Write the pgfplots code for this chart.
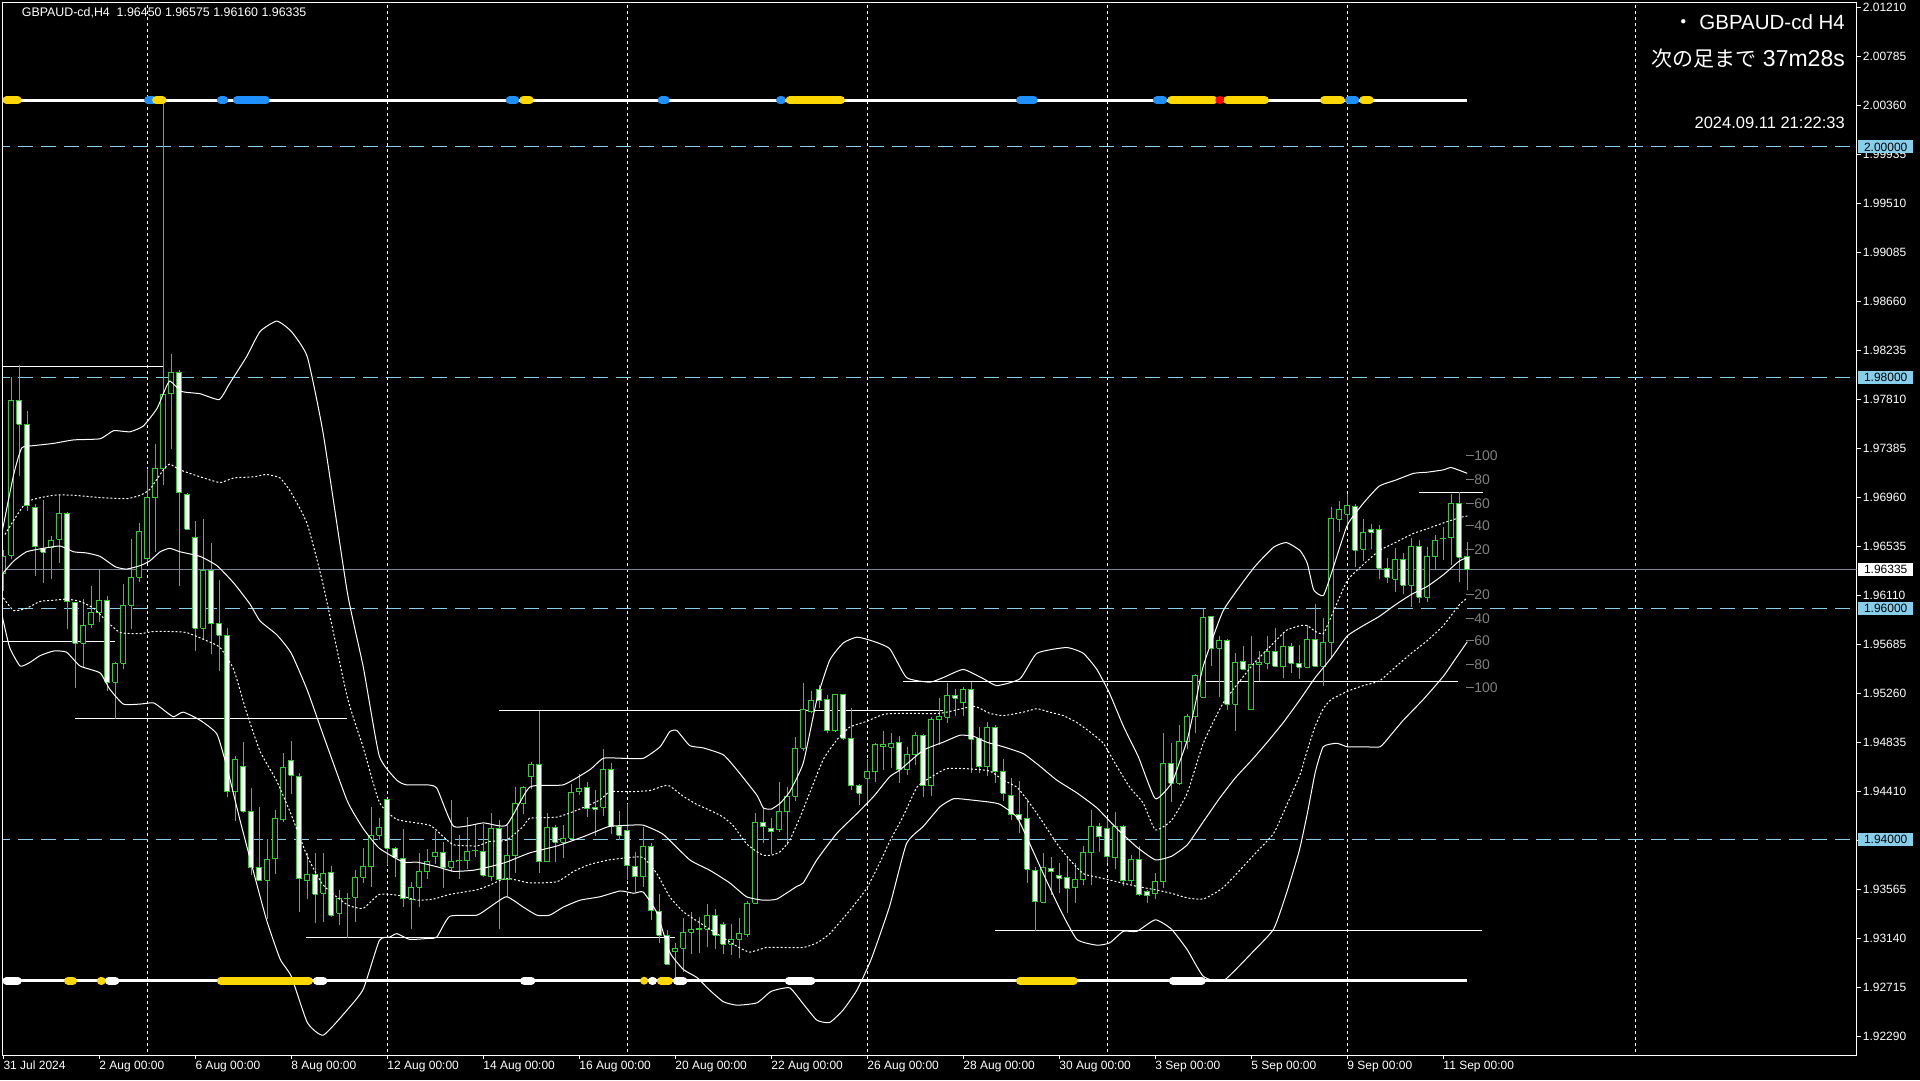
\documentclass[border=0pt]{standalone}
\usepackage{fontspec}
\setmainfont{Liberation Sans}
\newfontfamily\cjk{Noto Sans CJK JP}
\usepackage{pgfplots}
\pgfplotsset{compat=1.18}
\usepackage{pgfplotstable}
\definecolor{cgreen}{RGB}{50,205,50}
\definecolor{sky}{RGB}{135,206,235}
\definecolor{dblue}{RGB}{30,144,255}
\definecolor{gold}{RGB}{255,215,0}
\definecolor{pgray}{RGB}{119,136,153}
\definecolor{oscgray}{RGB}{128,128,128}

\pgfplotstableread{
i O H L C
0 1.96299 1.96506 1.96149 1.96449
1 1.96460 1.98008 1.96430 1.97801
2 1.97801 1.98109 1.97144 1.97595
3 1.97595 1.97707 1.96844 1.96889
4 1.96874 1.96907 1.96280 1.96532
5 1.96521 1.96938 1.96216 1.96487
6 1.96524 1.96626 1.96254 1.96588
7 1.96599 1.96986 1.96393 1.96821
8 1.96821 1.96836 1.95818 1.96055
9 1.96051 1.96051 1.95311 1.95698
10 1.95698 1.96085 1.95491 1.95852
11 1.95856 1.96190 1.95829 1.95965
12 1.95961 1.96333 1.95882 1.96070
13 1.96070 1.96107 1.95285 1.95360
14 1.95360 1.95536 1.95041 1.95525
15 1.95525 1.96212 1.95473 1.96025
16 1.96025 1.96599 1.95818 1.96269
17 1.96269 1.96738 1.96224 1.96667
18 1.96430 1.97212 1.96393 1.96960
19 1.96960 1.97426 1.96487 1.97208
20 1.97208 2.00400 1.97069 1.97854
21 1.97858 1.98203 1.97377 1.98046
22 1.98046 1.98064 1.96194 1.97001
23 1.96986 1.97001 1.96675 1.96686
24 1.96611 1.96757 1.95630 1.95829
25 1.95829 1.96776 1.95724 1.96329
26 1.96329 1.96562 1.95604 1.95867
27 1.95867 1.96243 1.95454 1.95766
28 1.95766 1.95830 1.94365 1.94410
29 1.94410 1.94722 1.94158 1.94691
30 1.94628 1.94839 1.94222 1.94241
31 1.94241 1.94440 1.93689 1.93752
32 1.93752 1.94278 1.93632 1.93644
33 1.93644 1.94000 1.93309 1.93820
34 1.93828 1.94256 1.93700 1.94177
35 1.94166 1.94748 1.94147 1.94616
36 1.94684 1.94853 1.94391 1.94552
37 1.94541 1.94570 1.93371 1.93654
38 1.93639 1.93876 1.93478 1.93694
39 1.93694 1.93876 1.93270 1.93521
40 1.93530 1.93876 1.93284 1.93703
41 1.93709 1.93767 1.93328 1.93339
42 1.93356 1.93559 1.93255 1.93486
43 1.93486 1.93530 1.93145 1.93483
44 1.93495 1.93732 1.93284 1.93668
45 1.93668 1.93925 1.93622 1.93761
46 1.93761 1.94281 1.93587 1.94032
47 1.94032 1.94185 1.93992 1.94102
48 1.94347 1.94350 1.93775 1.93920
49 1.93920 1.93934 1.93674 1.93842
50 1.93833 1.94084 1.93414 1.93481
51 1.93478 1.93625 1.93218 1.93582
52 1.93582 1.93876 1.93408 1.93718
53 1.93718 1.93911 1.93654 1.93804
54 1.93848 1.94070 1.93784 1.93885
55 1.93885 1.93972 1.93579 1.93755
56 1.93755 1.94339 1.93712 1.93807
57 1.93813 1.94035 1.93654 1.93810
58 1.93813 1.94194 1.93741 1.93894
59 1.93897 1.94131 1.93848 1.93902
60 1.93894 1.94131 1.93668 1.93686
61 1.93674 1.94229 1.93640 1.94093
62 1.94093 1.94165 1.93218 1.93645
63 1.93645 1.94122 1.93501 1.93856
64 1.93856 1.94454 1.93709 1.94310
65 1.94310 1.94460 1.94217 1.94448
66 1.94541 1.94671 1.94431 1.94648
67 1.94648 1.95113 1.93709 1.93804
68 1.93804 1.94223 1.93804 1.94102
69 1.94102 1.94122 1.93804 1.93972
70 1.93972 1.94122 1.93839 1.94006
71 1.94006 1.94474 1.94006 1.94405
72 1.94411 1.94564 1.94382 1.94440
73 1.94446 1.94498 1.94194 1.94261
74 1.94275 1.94425 1.94030 1.94258
75 1.94275 1.94781 1.94203 1.94604
76 1.94604 1.94656 1.94044 1.94113
77 1.94113 1.94243 1.93992 1.94032
78 1.94073 1.94304 1.93645 1.93767
79 1.93761 1.93885 1.93538 1.93674
80 1.93674 1.94107 1.93588 1.93934
81 1.93934 1.93969 1.93299 1.93377
82 1.93371 1.93521 1.93096 1.93166
83 1.93163 1.93212 1.92914 1.92914
84 1.93024 1.93096 1.92764 1.93053
85 1.93053 1.93313 1.92851 1.93192
86 1.93192 1.93365 1.93001 1.93212
87 1.93212 1.93322 1.93010 1.93223
88 1.93218 1.93437 1.93062 1.93339
89 1.93339 1.93394 1.93044 1.93166
90 1.93261 1.93284 1.93001 1.93088
91 1.93088 1.93261 1.92995 1.93131
92 1.93131 1.93313 1.92972 1.93177
93 1.93169 1.93466 1.93154 1.93443
94 1.93443 1.94223 1.93437 1.94145
95 1.94145 1.94281 1.93969 1.94107
96 1.94093 1.94180 1.93871 1.94064
97 1.94079 1.94497 1.94064 1.94238
98 1.94238 1.94454 1.93949 1.94373
99 1.94373 1.94882 1.94330 1.94786
100 1.94786 1.95356 1.94763 1.95119
101 1.95104 1.95283 1.95090 1.95205
102 1.95298 1.95335 1.95133 1.95205
103 1.95211 1.95249 1.94916 1.94940
104 1.94940 1.95257 1.94931 1.95249
105 1.95249 1.95257 1.94859 1.94873
106 1.94873 1.95133 1.94425 1.94463
107 1.94463 1.94477 1.94295 1.94396
108 1.94526 1.94691 1.94324 1.94584
109 1.94584 1.94830 1.94498 1.94821
110 1.94801 1.94937 1.94599 1.94821
111 1.94795 1.94916 1.94613 1.94830
112 1.94839 1.94894 1.94489 1.94599
113 1.94599 1.94801 1.94556 1.94729
114 1.94729 1.94931 1.94642 1.94899
115 1.94899 1.94908 1.94362 1.94460
116 1.94460 1.95061 1.94377 1.95032
117 1.95032 1.95226 1.94816 1.95061
118 1.95055 1.95350 1.95009 1.95246
119 1.95246 1.95301 1.95070 1.95220
120 1.95183 1.95315 1.95067 1.95292
121 1.95298 1.95365 1.94570 1.94865
122 1.94873 1.94975 1.94570 1.94628
123 1.94628 1.95012 1.94547 1.94969
124 1.94969 1.94989 1.94489 1.94584
125 1.94584 1.94691 1.94333 1.94397
126 1.94377 1.94527 1.94166 1.94209
127 1.94215 1.94504 1.94050 1.94171
128 1.94177 1.94345 1.93622 1.93738
129 1.93727 1.93761 1.93206 1.93458
130 1.93452 1.93877 1.93452 1.93755
131 1.93747 1.93848 1.93516 1.93718
132 1.93680 1.93790 1.93536 1.93660
133 1.93669 1.93856 1.93357 1.93573
134 1.93579 1.93790 1.93443 1.93646
135 1.93646 1.93943 1.93602 1.93882
136 1.93882 1.94252 1.93602 1.94108
137 1.94108 1.94137 1.93891 1.94021
138 1.94090 1.94171 1.93796 1.93848
139 1.93839 1.94238 1.93738 1.94108
140 1.94108 1.94122 1.93594 1.93640
141 1.93640 1.93862 1.93611 1.93825
142 1.93825 1.93940 1.93507 1.93516
143 1.93545 1.93559 1.93443 1.93507
144 1.93524 1.93703 1.93478 1.93631
145 1.93631 1.94923 1.93579 1.94657
146 1.94651 1.94830 1.94324 1.94483
147 1.94483 1.94989 1.94469 1.94844
148 1.94844 1.95084 1.94778 1.95061
149 1.95061 1.95431 1.94917 1.95417
150 1.95228 1.95994 1.95220 1.95922
151 1.95928 1.95936 1.95503 1.95653
152 1.95653 1.95763 1.95228 1.95720
153 1.95720 1.95731 1.95119 1.95168
154 1.95168 1.95615 1.94937 1.95532
155 1.95537 1.95673 1.95465 1.95471
156 1.95119 1.95760 1.95119 1.95509
157 1.95509 1.95630 1.95370 1.95532
158 1.95523 1.95760 1.95474 1.95624
159 1.95624 1.95826 1.95494 1.95500
160 1.95494 1.95797 1.95399 1.95673
161 1.95673 1.95702 1.95442 1.95523
162 1.95523 1.95682 1.95387 1.95488
163 1.95488 1.95855 1.95480 1.95731
164 1.95731 1.96037 1.95488 1.95500
165 1.95500 1.95913 1.95329 1.95705
166 1.95705 1.96875 1.95581 1.96780
167 1.96771 1.96933 1.96664 1.96858
168 1.96814 1.96991 1.96708 1.96895
169 1.96881 1.96904 1.96355 1.96505
170 1.96511 1.96771 1.96413 1.96658
171 1.96684 1.96731 1.96511 1.96658
172 1.96684 1.96722 1.96251 1.96346
173 1.96346 1.96433 1.96222 1.96268
174 1.96251 1.96520 1.96144 1.96419
175 1.96419 1.96476 1.96121 1.96199
176 1.96199 1.96606 1.96014 1.96534
177 1.96534 1.96592 1.96049 1.96095
178 1.96095 1.96534 1.96058 1.96448
179 1.96448 1.96635 1.96332 1.96586
180 1.96604 1.96708 1.96419 1.96609
181 1.96612 1.96991 1.96375 1.96910
182 1.96910 1.97005 1.96231 1.96442
183 1.96450 1.96575 1.96160 1.96335
}\candles

\begin{document}
\begin{tikzpicture}[x=1pt,y=1pt]
\useasboundingbox (0,0) rectangle (1920,1080);
\fill[black] (0,0) rectangle (1920,1080);
\begin{axis}[
  at={(2.7pt,25pt)}, anchor=south west,
  width=1854pt, height=1052.3pt, scale only axis,
  xmin=-0.075, xmax=231.675, ymin=1.92128, ymax=2.01250,
  axis line style={white, line width=1pt},
  tick align=outside, major tick length=4pt,
  tick style={white, line width=1pt},
  ytick pos=right, yticklabel pos=right,
  xtick pos=left,
  ytick={2.01210,2.00785,2.00360,1.99936,1.99510,1.99085,1.98660,1.98235,1.97810,1.97385,1.96960,1.96535,1.96110,1.95685,1.95260,1.94835,1.94410,1.93989,1.93565,1.93140,1.92715,1.92290},
  yticklabels={2.01210,2.00785,2.00360,1.99935,1.99510,1.99085,1.98660,1.98235,1.97810,1.97385,1.96960,1.96535,1.96110,1.95685,1.95260,1.94835,1.94410,1.93985,1.93565,1.93140,1.92715,1.92290},
  yticklabel style={font=\fontsize{12}{12}\selectfont, text=white, anchor=west, inner sep=0pt, xshift=2pt},
  xtick={0,12,24,36,48,60,72,84,96,108,120,132,144,156,168,180},
  xticklabels={31 Jul 2024,2 Aug 00:00,6 Aug 00:00,8 Aug 00:00,12 Aug 00:00,14 Aug 00:00,16 Aug 00:00,20 Aug 00:00,22 Aug 00:00,26 Aug 00:00,28 Aug 00:00,30 Aug 00:00,3 Sep 00:00,5 Sep 00:00,9 Sep 00:00,11 Sep 00:00},
  xticklabel style={font=\fontsize{12}{12}\selectfont, text=white, anchor=north west, inner sep=0pt, yshift=-2pt},
  clip=true,
]
% vertical dotted grid
\foreach \g in {18,48,78,108,138,168,204}{
  \edef\tmp{\noexpand\addplot[white, line width=1pt, dash pattern=on 3pt off 3pt] coordinates {(\g,1.92) (\g,2.02)};}\tmp
}
% level lines
\addplot[sky, line width=1pt, dash pattern=on 15pt off 8pt] coordinates {(-1,2.00000) (240,2.00000)};
\addplot[sky, line width=1pt, dash pattern=on 15pt off 8pt] coordinates {(-1,1.98000) (240,1.98000)};
\addplot[sky, line width=1pt, dash pattern=on 15pt off 8pt] coordinates {(-1,1.96000) (240,1.96000)};
\addplot[sky, line width=1pt, dash pattern=on 15pt off 8pt] coordinates {(-1,1.94000) (240,1.94000)};
% current price
\addplot[pgray, line width=1pt] coordinates {(-1,1.96335) (240,1.96335)};
% horizontal S/R lines
\addplot[white, line width=1pt] coordinates {(-0.5,1.98100) (20,1.98100)};
\addplot[white, line width=1pt] coordinates {(-0.5,1.95709) (14,1.95709)};
\addplot[white, line width=1pt] coordinates {(9,1.95041) (43,1.95041)};
\addplot[white, line width=1pt] coordinates {(62,1.95116) (117.5,1.95116)};
\addplot[white, line width=1pt] coordinates {(112.5,1.95370) (181.9,1.95370)};
\addplot[white, line width=1pt] coordinates {(37.9,1.93148) (84,1.93148)};
\addplot[white, line width=1pt] coordinates {(124,1.93209) (184.8,1.93209)};
\addplot[white, line width=1pt] coordinates {(177,1.97006) (185,1.97006)};
% candles
\pgfplotstablegetrowsof{\candles}
\pgfmathtruncatemacro{\lastrow}{\pgfplotsretval-1}
\pgfplotsforeachungrouped \rowidx in {0,...,\lastrow}{%
  \pgfplotstablegetelem{\rowidx}{i}\of\candles \edef\ci{\pgfplotsretval}%
  \pgfplotstablegetelem{\rowidx}{O}\of\candles \edef\co{\pgfplotsretval}%
  \pgfplotstablegetelem{\rowidx}{H}\of\candles \edef\ch{\pgfplotsretval}%
  \pgfplotstablegetelem{\rowidx}{L}\of\candles \edef\cl{\pgfplotsretval}%
  \pgfplotstablegetelem{\rowidx}{C}\of\candles \edef\cc{\pgfplotsretval}%
  \pgfmathsetmacro{\xa}{\ci-0.3}%
  \pgfmathsetmacro{\xb}{\ci+0.3}%
  \ifdim\cc pt>\co pt \def\fillc{black}\let\lo\co\let\hi\cc
  \else \def\fillc{white}\let\lo\cc\let\hi\co\fi
  \edef\doplot{\noexpand\addplot[cgreen, line width=1pt] coordinates {(\ci,\cl) (\ci,\ch)};
    \noexpand\addplot[draw=cgreen, fill=\fillc, line width=1pt] coordinates {(\xa,\lo) (\xb,\lo) (\xb,\hi) (\xa,\hi) (\xa,\lo)};}%
  \doplot
}
% Bollinger: upper 2 sigma
\addplot[white, line width=1pt, smooth, tension=0.3] coordinates {
(-0.1,1.9668) (1.3,1.9716) (2.3,1.9739) (3.8,1.9741) (6.3,1.9743) (8.8,1.9746) (12.1,1.9747) (13.8,1.9754) (15.8,1.9753) (17.5,1.9758) (19.2,1.9773) (20,1.9786) (20.8,1.9797) (22.3,1.9788) (24.6,1.9786) (27,1.9781) (28.3,1.9795) (30.4,1.9818) (32.1,1.9840) (34.2,1.9849) (36,1.9840) (38,1.9818) (40,1.9751) (43,1.9614) (45,1.9549) (47,1.9472) (49.2,1.9451) (50.4,1.9447) (52.9,1.9447) (54.2,1.9444) (56.3,1.9411) (60,1.9414) (62.9,1.9412) (65.8,1.9445) (70,1.9447) (73.3,1.9460) (75,1.9470) (77.5,1.9470) (80,1.9470) (82.1,1.9480) (83.3,1.9493) (84.2,1.9494) (85.8,1.9481) (87.5,1.9479) (90,1.9473) (91.7,1.9460) (94.2,1.9438) (95,1.9427) (96,1.9426) (97.1,1.9431) (98.3,1.9441) (100,1.9466) (101.7,1.9521) (103.3,1.9555) (105,1.9570) (106.7,1.9575) (108.5,1.9572) (110.8,1.9565) (112.9,1.9540) (115.8,1.9536) (117.5,1.9540) (120,1.9547) (122.5,1.9539) (124.2,1.9533) (127.1,1.9539) (129.2,1.9561) (132.9,1.9566) (135,1.9561) (136.7,1.9547) (138.3,1.9526) (140,1.9498) (141.9,1.9471) (144,1.9435) (146,1.9448) (147,1.9466) (148,1.9486) (149,1.9517) (150,1.9550) (152.5,1.9598) (156.3,1.9635) (158.8,1.9653) (160.4,1.9657) (162.1,1.9650) (163,1.9639) (163.8,1.9616) (165,1.9611) (166,1.9630) (168,1.9672) (170,1.9691) (172,1.9706) (174,1.9711) (176.3,1.9717) (178,1.9718) (180,1.9720) (181,1.9722) (183,1.9717)};
% upper 1 sigma
\addplot[white, line width=1pt, dash pattern=on 2pt off 2pt, smooth, tension=0.3] coordinates {
(0.2,1.9664) (2.9,1.9692) (6.3,1.9698) (8.8,1.9698) (12.1,1.9696) (15.4,1.9695) (17.1,1.9698) (18.3,1.9703) (20,1.9720) (20.8,1.9725) (22.1,1.9720) (24.6,1.9714) (27.1,1.9709) (28.8,1.9713) (31.3,1.9714) (32.9,1.9716) (34.6,1.9713) (36,1.9700) (38,1.9673) (40,1.9620) (43,1.9523) (45,1.9479) (47,1.9432) (49.2,1.9417) (53.3,1.9412) (55,1.9402) (56.3,1.9395) (59.2,1.9394) (60.8,1.9398) (62.9,1.9399) (65,1.9411) (65.8,1.9418) (69.2,1.9419) (71.7,1.9425) (74.6,1.9434) (75.8,1.9441) (78.3,1.9441) (80.8,1.9442) (82.5,1.9446) (83.3,1.9446) (85,1.9437) (86.7,1.9430) (88.3,1.9425) (90,1.9419) (91.3,1.9411) (92.9,1.9396) (94.2,1.9389) (95,1.9386) (96,1.9386) (97.1,1.9389) (98.3,1.9399) (99.6,1.9419) (100.8,1.9440) (102.5,1.9469) (104.2,1.9486) (105.8,1.9497) (107.9,1.9502) (110,1.9508) (112.1,1.9509) (117.1,1.9509) (121.3,1.9515) (123.3,1.9509) (125,1.9507) (127.5,1.9510) (129.2,1.9513) (130.8,1.9510) (132.5,1.9507) (134.2,1.9501) (135.8,1.9493) (137.5,1.9483) (139.2,1.9463) (140.8,1.9445) (142.5,1.9431) (144,1.9408) (146,1.9416) (148,1.9440) (150,1.9483) (152.5,1.9518) (156.3,1.9552) (158.8,1.9570) (160.4,1.9581) (162.1,1.9585) (163,1.9585) (164,1.9580) (165,1.9578) (166,1.9593) (168,1.9624) (170,1.9638) (172,1.9650) (174,1.9657) (176.3,1.9665) (178,1.9669) (180,1.9674) (182.2,1.9679) (183,1.9680)};
% middle
\addplot[white, line width=1pt, smooth, tension=0.3] coordinates {
(-0.1,1.9630) (1.3,1.9641) (2.9,1.9649) (5,1.9652) (7.1,1.9654) (8.8,1.9649) (10.4,1.9648) (12.1,1.9645) (14,1.9636) (15.4,1.9634) (17.1,1.9637) (18.3,1.9641) (19.6,1.9649) (20.8,1.9652) (22.1,1.9649) (24.6,1.9645) (26.7,1.9637) (28.8,1.9622) (30.8,1.9604) (32.1,1.9589) (34.2,1.9577) (36,1.9561) (38,1.9529) (40,1.9490) (43,1.9433) (45,1.9409) (47,1.9392) (50,1.9380) (51.7,1.9380) (54.2,1.9376) (56.3,1.9372) (58.8,1.9373) (60.8,1.9376) (62.9,1.9380) (65.8,1.9388) (69.2,1.9394) (72.5,1.9402) (74.6,1.9408) (75.8,1.9411) (78.3,1.9412) (80,1.9412) (82.5,1.9404) (85.8,1.9382) (88.3,1.9373) (90.8,1.9362) (92.9,1.9350) (95,1.9347) (96.7,1.9348) (99.2,1.9359) (100,1.9362) (101.7,1.9382) (104.2,1.9405) (106.7,1.9422) (108.8,1.9437) (110.8,1.9454) (112.1,1.9460) (115,1.9477) (117.5,1.9484) (119.6,1.9490) (121.3,1.9489) (122.9,1.9484) (125,1.9480) (127.5,1.9474) (129.6,1.9463) (131.7,1.9451) (134.2,1.9440) (136.7,1.9427) (139.2,1.9409) (141.7,1.9393) (144,1.9382) (146,1.9385) (148,1.9395) (150,1.9415) (152,1.9435) (154,1.9453) (156,1.9468) (158,1.9484) (160,1.9501) (162,1.9520) (164,1.9540) (166,1.9557) (168,1.9576) (170,1.9585) (172,1.9593) (174,1.9603) (176,1.9612) (178,1.9619) (180,1.9629) (182,1.9641) (183,1.9644)};
% lower 1 sigma
\addplot[white, line width=1pt, dash pattern=on 2pt off 2pt, smooth, tension=0.3] coordinates {
(0,1.9609) (1.3,1.9598) (2.9,1.9600) (4.6,1.9606) (6.3,1.9607) (7.9,1.9608) (9.6,1.9606) (11.3,1.9600) (12.9,1.9589) (14.6,1.9579) (17.1,1.9578) (18.8,1.9580) (20.4,1.9580) (22.9,1.9579) (25.4,1.9572) (27.1,1.9566) (28.8,1.9547) (30.4,1.9510) (32.1,1.9476) (34.2,1.9450) (36,1.9421) (38,1.9385) (40,1.9360) (43,1.9343) (45,1.9340) (47,1.9352) (49.6,1.9351) (51.7,1.9347) (53.8,1.9348) (55.8,1.9352) (59.2,1.9356) (60.8,1.9360) (62.9,1.9366) (65.8,1.9362) (69.2,1.9363) (71.3,1.9372) (73.3,1.9378) (75.8,1.9382) (78.3,1.9384) (80,1.9384) (81.7,1.9370) (83.3,1.9350) (85,1.9337) (86.7,1.9329) (89.2,1.9318) (91.7,1.9307) (93.3,1.9302) (95.4,1.9306) (97.5,1.9306) (100,1.9306) (101.7,1.9310) (103.3,1.9318) (105.8,1.9338) (107.9,1.9357) (109.6,1.9380) (110.8,1.9398) (112.5,1.9420) (114.2,1.9445) (115.8,1.9453) (117.9,1.9461) (120.4,1.9461) (123.3,1.9459) (125,1.9451) (126.7,1.9445) (128.3,1.9431) (130,1.9414) (131.7,1.9396) (133.3,1.9382) (135,1.9370) (136.7,1.9367) (139.2,1.9363) (141.7,1.9359) (144,1.9356) (146,1.9353) (148,1.9349) (150,1.9348) (152.5,1.9358) (156.3,1.9386) (158.8,1.9405) (160.4,1.9429) (162.1,1.9456) (163,1.9477) (164,1.9498) (165,1.9513) (166,1.9521) (168,1.9528) (170,1.9533) (172,1.9537) (174,1.9549) (176,1.9561) (178,1.9572) (180,1.9585) (182,1.9603) (183,1.9609)};
% lower 2 sigma
\addplot[white, line width=1pt, smooth, tension=0.3] coordinates {
(-0.1,1.9592) (0.8,1.9566) (2.1,1.9550) (3.3,1.9553) (4.6,1.9559) (6.3,1.9563) (7.9,1.9562) (9.6,1.9550) (12.1,1.9544) (13.3,1.9530) (15,1.9517) (17.1,1.9517) (18.8,1.9518) (20.4,1.9510) (21.3,1.9506) (22.5,1.9510) (24.6,1.9503) (26.7,1.9491) (28,1.9461) (29.6,1.9416) (31.3,1.9371) (32.9,1.9330) (34.6,1.9296) (36,1.9281) (38,1.9241) (40,1.9230) (43,1.9252) (45,1.9270) (47,1.9312) (48.3,1.9315) (49.2,1.9318) (50.8,1.9313) (53.3,1.9314) (54.2,1.9315) (55.8,1.9333) (59.2,1.9334) (60.8,1.9341) (62.9,1.9350) (65,1.9341) (66.7,1.9334) (68.3,1.9334) (70,1.9341) (72.1,1.9347) (74.6,1.9350) (77.1,1.9355) (78.8,1.9353) (80,1.9354) (81.7,1.9336) (83.3,1.9302) (85,1.9287) (86.7,1.9280) (88.3,1.9269) (90,1.9259) (91.7,1.9256) (94.2,1.9258) (96,1.9268) (98.3,1.9271) (100,1.9257) (101.7,1.9243) (103.3,1.9241) (105,1.9252) (106.7,1.9269) (108.5,1.9296) (110.8,1.9342) (112.9,1.9396) (115,1.9411) (117.1,1.9428) (118.8,1.9435) (120.8,1.9434) (123.3,1.9432) (124.6,1.9430) (126.7,1.9419) (128.3,1.9396) (130,1.9370) (132.1,1.9339) (134.2,1.9313) (136.7,1.9308) (138.3,1.9310) (140,1.9320) (141.7,1.9320) (144,1.9330) (146,1.9322) (148,1.9304) (150,1.9281) (152.5,1.9277) (156.3,1.9303) (158.8,1.9322) (160.4,1.9353) (162,1.9390) (163,1.9422) (164,1.9458) (165,1.9480) (166.7,1.9483) (168,1.9480) (170,1.9480) (172.1,1.9480) (173.3,1.9489) (175,1.9503) (177.5,1.9521) (180,1.9541) (181.7,1.9558) (183,1.9571)};
% status lines
\addplot[white, line width=3.5pt] coordinates {(-0.5,2.00403) (183,2.00403)};
\addplot[white, line width=3.5pt] coordinates {(-0.5,1.92772) (183,1.92772)};
% top segments
\addplot[gold, line width=8pt, line cap=round] coordinates {(0.4,2.00403) (1.8,2.00403)};
\addplot[dblue, line width=8pt, line cap=round] coordinates {(18.1,2.00403) (18.7,2.00403)};
\addplot[gold, line width=8pt, line cap=round] coordinates {(19.1,2.00403) (19.9,2.00403)};
\addplot[dblue, line width=8pt, line cap=round] coordinates {(27.2,2.00403) (27.6,2.00403)};
\addplot[dblue, line width=8pt, line cap=round] coordinates {(29.2,2.00403) (32.8,2.00403)};
\addplot[dblue, line width=8pt, line cap=round] coordinates {(63.3,2.00403) (64.0,2.00403)};
\addplot[gold, line width=8pt, line cap=round] coordinates {(65.0,2.00403) (65.8,2.00403)};
\addplot[dblue, line width=8pt, line cap=round] coordinates {(82.3,2.00403) (82.8,2.00403)};
\addplot[dblue, line width=8pt, line cap=round] coordinates {(97.1,2.00403) (97.3,2.00403)};
\addplot[gold, line width=8pt, line cap=round] coordinates {(98.3,2.00403) (104.7,2.00403)};
\addplot[dblue, line width=8pt, line cap=round] coordinates {(127.1,2.00403) (128.8,2.00403)};
\addplot[dblue, line width=8pt, line cap=round] coordinates {(144.2,2.00403) (145.0,2.00403)};
\addplot[gold, line width=8pt, line cap=round] coordinates {(146.0,2.00403) (151.3,2.00403)};
\addplot[gold, line width=8pt, line cap=round] coordinates {(153.0,2.00403) (157.7,2.00403)};
\addplot[red, line width=8pt, line cap=round] coordinates {(152.0,2.00403) (152.1,2.00403)};
\addplot[gold, line width=8pt, line cap=round] coordinates {(165.1,2.00403) (167.2,2.00403)};
\addplot[dblue, line width=8pt, line cap=round] coordinates {(168.2,2.00403) (169.0,2.00403)};
\addplot[gold, line width=8pt, line cap=round] coordinates {(170.0,2.00403) (170.8,2.00403)};
% bottom segments
\addplot[white, line width=8pt, line cap=round] coordinates {(0.4,1.92772) (1.8,1.92772)};
\addplot[gold, line width=8pt, line cap=round] coordinates {(8.1,1.92772) (8.7,1.92772)};
\addplot[gold, line width=8pt, line cap=round] coordinates {(12.2,1.92772) (12.3,1.92772)};
\addplot[white, line width=8pt, line cap=round] coordinates {(13.2,1.92772) (14.0,1.92772)};
\addplot[gold, line width=8pt, line cap=round] coordinates {(27.2,1.92772) (38.2,1.92772)};
\addplot[white, line width=8pt, line cap=round] coordinates {(39.2,1.92772) (40.0,1.92772)};
\addplot[white, line width=8pt, line cap=round] coordinates {(65.1,1.92772) (66.0,1.92772)};
\addplot[gold, line width=8pt, line cap=round] coordinates {(80.1,1.92772) (80.1,1.92772)};
\addplot[white, line width=8pt, line cap=round] coordinates {(81.1,1.92772) (81.2,1.92772)};
\addplot[gold, line width=8pt, line cap=round] coordinates {(82.2,1.92772) (83.2,1.92772)};
\addplot[white, line width=8pt, line cap=round] coordinates {(84.2,1.92772) (85.0,1.92772)};
\addplot[white, line width=8pt, line cap=round] coordinates {(98.2,1.92772) (101.0,1.92772)};
\addplot[gold, line width=8pt, line cap=round] coordinates {(127.1,1.92772) (133.8,1.92772)};
\addplot[white, line width=8pt, line cap=round] coordinates {(146.2,1.92772) (149.8,1.92772)};
% oscillator scale
\foreach \v/\lab in {1.97320/100,1.97118/80,1.96910/60,1.96714/40,1.96512/20,1.96116/20,1.95914/40,1.95717/60,1.95515/80,1.95316/100}{
  \edef\tmp{\noexpand\node[anchor=west, inner sep=0pt, text=oscgray, font=\noexpand\fontsize{14}{14}\noexpand\selectfont] at (axis cs:182.85,\v) {\noexpand\rule[4.5pt]{8pt}{1pt}\lab};}\tmp
}
\coordinate (lvA) at (axis cs:231.675,2.00000);
\coordinate (lvB) at (axis cs:231.675,1.98000);
\coordinate (lvC) at (axis cs:231.675,1.96335);
\coordinate (lvD) at (axis cs:231.675,1.96000);
\coordinate (lvE) at (axis cs:231.675,1.94000);
\end{axis}
\tikzset{lvbox/.style={anchor=west, inner xsep=5pt, inner ysep=0pt, minimum height=13pt, minimum width=55pt, align=left, text=black, font=\fontsize{12}{12}\selectfont}}
\node[lvbox, fill=sky] at ([xshift=1.3pt]lvA) {2.00000};
\node[lvbox, fill=sky] at ([xshift=1.3pt]lvB) {1.98000};
\node[lvbox, fill=white] at ([xshift=1.3pt]lvC) {1.96335};
\node[lvbox, fill=sky] at ([xshift=1.3pt]lvD) {1.96000};
\node[lvbox, fill=sky] at ([xshift=1.3pt]lvE) {1.94000};
% texts
\node[anchor=west, inner sep=0pt, text=white, font=\fontsize{12.4}{12.4}\selectfont] at (21.7,1067.3) {GBPAUD-cd,H4\ \ 1.96450 1.96575 1.96160 1.96335};
\node[anchor=east, inner sep=0pt, text=white, font=\fontsize{20.5}{20.5}\selectfont] at (1845,1058.3) {{\cjk ・} GBPAUD-cd H4};
\node[anchor=east, inner sep=0pt, text=white, font=\fontsize{23}{23}\selectfont] at (1845,1021.7) {{\cjk\fontsize{21}{21}\selectfont 次の足まで} 37m28s};
\node[anchor=east, inner sep=0pt, text=white, font=\fontsize{16.5}{16.5}\selectfont] at (1845,956.7) {2024.09.11 21:22:33};
\end{tikzpicture}
\end{document}
